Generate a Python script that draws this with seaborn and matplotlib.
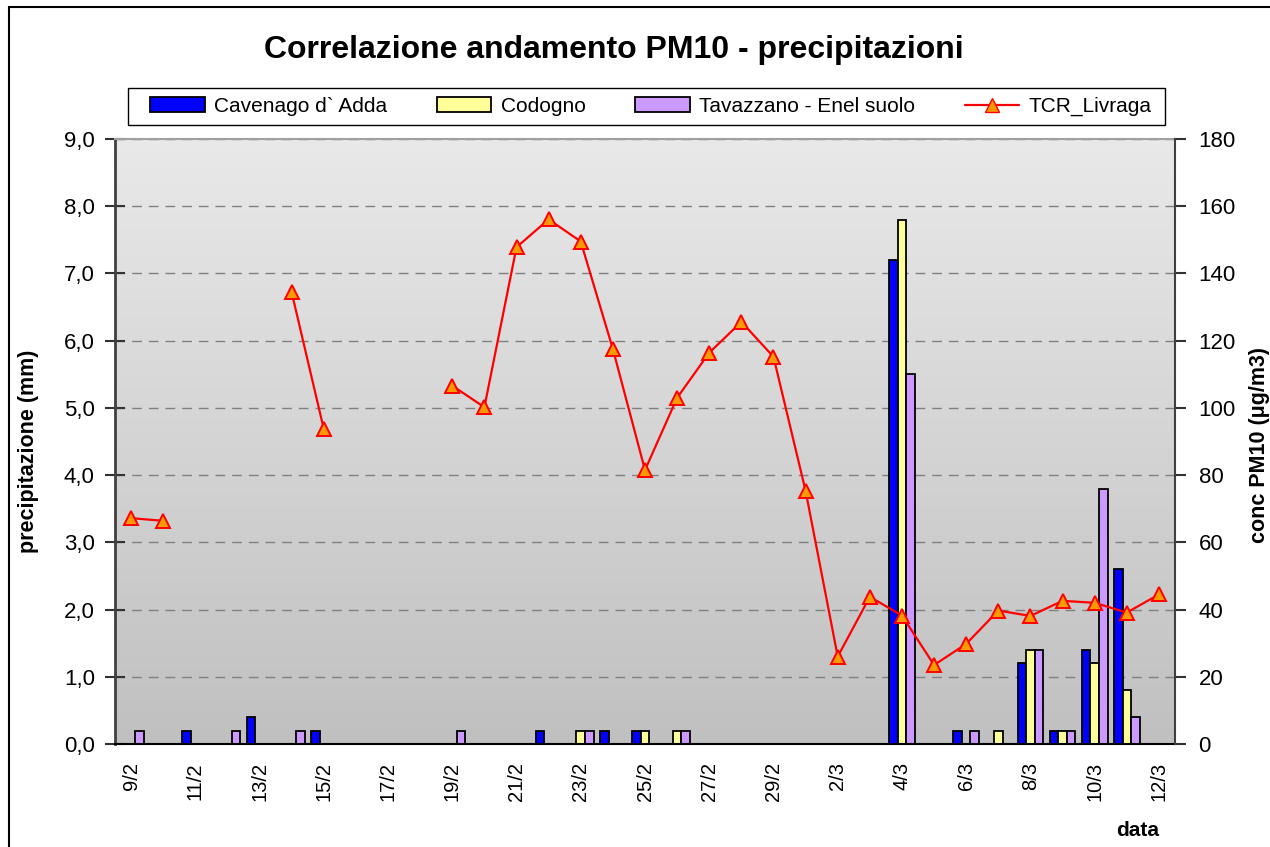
import numpy as np
import pandas as pd
import seaborn as sns
import matplotlib.pyplot as plt
from matplotlib.patches import Patch, Rectangle
from matplotlib.lines import Line2D
from matplotlib.colors import LinearSegmentedColormap

nan = np.nan

# giorni dal 9/2 al 12/3
dates = ['9/2', '10/2', '11/2', '12/2', '13/2', '14/2', '15/2', '16/2', '17/2',
         '18/2', '19/2', '20/2', '21/2', '22/2', '23/2', '24/2', '25/2', '26/2',
         '27/2', '28/2', '29/2', '1/3', '2/3', '3/3', '4/3', '5/3', '6/3', '7/3',
         '8/3', '9/3', '10/3', '11/3', '12/3']

stations = ['Cavenago d` Adda', 'Codogno', 'Tavazzano - Enel suolo']
station_colors = ['#0000FF', '#FFFF99', '#CC99FF']

# precipitazione (mm)
cavenago = [nan, nan, 0.2, nan, 0.4, nan, 0.2, nan, nan, nan, nan, nan, nan, 0.2, nan, 0.2, 0.2,
            nan, nan, nan, nan, nan, nan, nan, 7.2, nan, 0.2, nan, 1.2, 0.2, 1.4, 2.6, nan]
codogno = [nan, nan, nan, nan, nan, nan, nan, nan, nan, nan, nan, nan, nan, nan, 0.2, nan, 0.2,
           0.2, nan, nan, nan, nan, nan, nan, 7.8, nan, nan, 0.2, 1.4, 0.2, 1.2, 0.8, nan]
tavazzano = [0.2, nan, nan, 0.2, nan, 0.2, nan, nan, nan, nan, 0.2, nan, nan, nan, 0.2, nan, nan,
             0.2, nan, nan, nan, nan, nan, nan, 5.5, nan, 0.2, nan, 1.4, 0.2, 3.8, 0.4, nan]

# conc PM10 (ug/m3)
tcr_livraga = [67.2, 66.4, nan, nan, nan, 134.4, 93.7, nan, nan, nan, 106.6, 100.2, 147.8,
               156.1, 149.5, 117.5, 81.5, 103.0, 116.4, 125.6, 115.2, 75.3, 26.0, 43.8, 38.2,
               23.5, 29.8, 39.7, 38.1, 42.6, 42.0, 39.1, 44.5]

rain = pd.DataFrame({
    'data': dates * 3,
    'stazione': np.repeat(stations, len(dates)),
    'mm': cavenago + codogno + tavazzano,
}).dropna()

tcr = pd.DataFrame({'pos': np.arange(len(dates)), 'conc': tcr_livraga})
tcr['tratto'] = tcr['conc'].isna().cumsum()
tcr = tcr.dropna()

sns.set_style('white')
plt.rcParams['font.family'] = ['Liberation Sans', 'DejaVu Sans']
plt.rcParams['text.color'] = 'black'
plt.rcParams['xtick.color'] = 'black'
plt.rcParams['ytick.color'] = 'black'

W, H = 1270, 847
fig = plt.figure(figsize=(W / 100, H / 100), dpi=100)
ax = fig.add_axes([115 / W, 1 - 744 / H, (1175 - 115) / W, (744 - 139) / H])

# sfondo sfumato dell'area del grafico
bg = LinearSegmentedColormap.from_list('bg', ['#c0c0c0', '#e9e9e9'])
ax.imshow(np.linspace(0, 1, 256).reshape(-1, 1), cmap=bg, extent=[0, 1, 0, 1],
          transform=ax.transAxes, aspect='auto', origin='lower', zorder=0)

sns.barplot(data=rain, x='data', y='mm', hue='stazione', order=dates, hue_order=stations,
            palette=station_colors, saturation=1, edgecolor='black', linewidth=1.3,
            width=0.8, errorbar=None, legend=False, ax=ax)

ax2 = ax.twinx()
sns.lineplot(data=tcr, x='pos', y='conc', units='tratto', estimator=None, color='#FF0000',
             linewidth=1.6, marker='^', markersize=10.5, markerfacecolor='#FF9900',
             markeredgecolor='#FF0000', markeredgewidth=1.4, legend=False, ax=ax2)

ax.set_xlim(-0.5, len(dates) - 0.5)
ax.set_ylim(0, 9)
ax2.set_ylim(0, 180)

ax.set_axisbelow(True)
ax.grid(axis='y', color='#808080', linestyle=(0, (7, 5)), linewidth=1)

ax.set_yticks(np.arange(0, 10))
ax.set_yticklabels([f'{v:.1f}'.replace('.', ',') for v in np.arange(0, 10)])
ax.tick_params(axis='y', direction='inout', length=15, width=1.5, color='#333333',
               labelsize=16, pad=7)

ax.set_xticks(np.arange(0, len(dates), 2))
ax.set_xticklabels(dates[::2], rotation=90, va='top')
ax.set_xticks(np.arange(-0.5, len(dates)), minor=True)
ax.tick_params(axis='x', which='major', length=0, labelsize=14.5, pad=13)
ax.tick_params(axis='x', which='minor', direction='inout', length=12, width=1.5, color='#404040')

ax2.set_yticks(np.arange(0, 181, 20))
ax2.tick_params(axis='y', direction='out', length=8, width=1.5, color='#333333',
                labelsize=16, pad=9)

ax.set_xlabel('')
ax.set_ylabel('')
ax2.set_ylabel('')

ax.spines['left'].set_color('#404040')
ax.spines['left'].set_linewidth(2)
ax.spines['bottom'].set_color('black')
ax.spines['bottom'].set_linewidth(1.5)
ax.spines['top'].set_color('#a0a0a0')
ax.spines['top'].set_linewidth(1.5)
ax.spines['right'].set_visible(False)
ax2.spines['right'].set_color('#404040')
ax2.spines['right'].set_linewidth(1.5)
for s in ['left', 'top', 'bottom']:
    ax2.spines[s].set_visible(False)

fig.text(614 / W, 1 - 50 / H, 'Correlazione andamento PM10 - precipitazioni',
         fontsize=23, fontweight='bold', ha='center', va='center')
fig.text(29 / W, 1 - 451 / H, 'precipitazione (mm)', fontsize=15.5, fontweight='bold',
         rotation=90, ha='center', va='center')
fig.text(1259 / W, 1 - 445 / H, 'conc PM10 (\u03bcg/m3)', fontsize=15.5, fontweight='bold',
         rotation=90, ha='center', va='center')
fig.text(1138 / W, 1 - 830 / H, 'data', fontsize=15, fontweight='bold',
         ha='center', va='center')

handles = [Patch(facecolor=c, edgecolor='black', linewidth=1.3) for c in station_colors]
handles.append(Line2D([], [], color='#FF0000', linewidth=1.6, marker='^', markersize=10.5,
                      markerfacecolor='#FF9900', markeredgecolor='#FF0000'))
fig.legend(handles, stations + ['TCR_Livraga'], loc='center',
           bbox_to_anchor=(651 / W, 1 - 106.5 / H), ncol=4, frameon=False,
           fontsize=15, handlelength=2.6, handleheight=0.7, columnspacing=2.4,
           handletextpad=0.45, borderpad=0.2)
# riquadro della legenda
fig.add_artist(Rectangle((128 / W, 1 - 125 / H), (1165 - 128) / W, 37 / H,
                         transform=fig.transFigure, fill=False, edgecolor='black', linewidth=1.0))

# cornice esterna
fig.add_artist(Rectangle((9 / W, -0.05), 1.2, 1.05 - 7 / H, transform=fig.transFigure,
                         fill=False, edgecolor='black', linewidth=1.5))

fig.savefig('out.png', dpi=100)
